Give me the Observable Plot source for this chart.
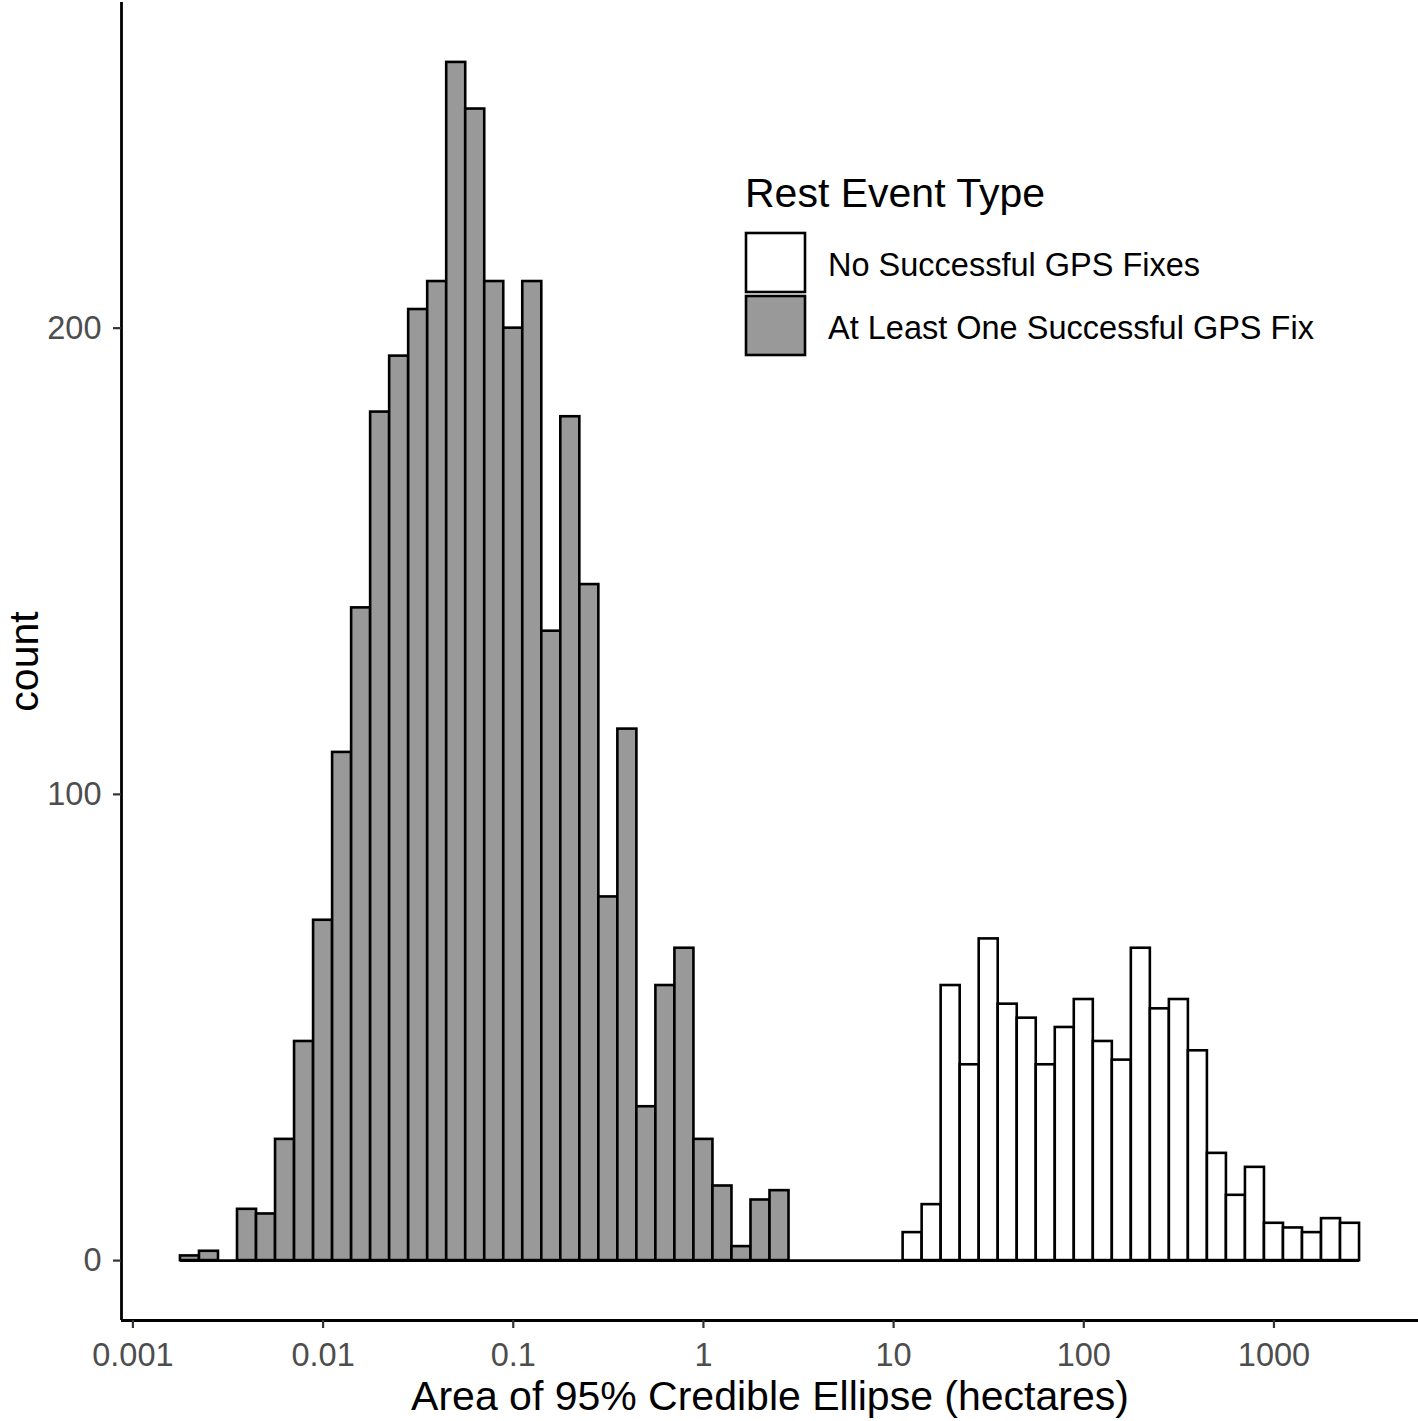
<!DOCTYPE html>
<html><head><meta charset="utf-8">
<script src="https://cdn.jsdelivr.net/npm/d3@7"></script>
<script src="https://cdn.jsdelivr.net/npm/@observablehq/plot@0.6"></script>
<style>
body{margin:0;background:#fff;}
#chart{position:relative;width:1418px;height:1421px;}
</style></head><body><div id="chart"></div>
<script>
// ---- data (histogram on log10 scale, bins of 0.1 decade) ----
const binWidthLog10 = 0.1;
const atLeastOneFixFirstEdgeLog10 = -2.75;
const atLeastOneFixCounts = [1,2,0,11,10,26,47,73,109,140,182,194,204,210,257,247,210,200,210,135,181,145,78,114,33,59,67,26,16,3,13,15];
const noFixFirstEdgeLog10 = 1.05;
const noFixCounts = [6,12,59,42,69,55,52,42,50,56,47,43,67,54,56,45,23,14,20,8,7,6,9,8];
const seriesNames = ["No Successful GPS Fixes", "At Least One Successful GPS Fix"];
const seriesFills = ["#FFFFFF", "#999999"];
const xTicks = [0.001, 0.01, 0.1, 1, 10, 100, 1000];
const yTicks = [0, 100, 200];
const xLabel = "Area of 95% Credible Ellipse (hectares)";
const yLabel = "count";
const legendTitle = "Rest Event Type";

function toBins(firstEdge, counts, type) {
  return counts.map((c, i) => ({
    x1: Math.pow(10, firstEdge + i * binWidthLog10),
    x2: Math.pow(10, firstEdge + (i + 1) * binWidthLog10),
    base: 0, count: c, type
  }));
}
const bins = [
  ...toBins(noFixFirstEdgeLog10, noFixCounts, seriesNames[0]),
  ...toBins(atLeastOneFixFirstEdgeLog10, atLeastOneFixCounts, seriesNames[1])
];
const lo = Math.log10(d3.min(bins, d => d.x1));
const hi = Math.log10(d3.max(bins, d => d.x2));
const xDomain = [Math.pow(10, lo - 0.05 * (hi - lo)), Math.pow(10, hi + 0.05 * (hi - lo))];
const yMax = d3.max(bins, d => d.count);
const yDomain = [-0.05 * yMax, 1.05 * yMax];

const font = "'Liberation Sans', Arial, Helvetica, sans-serif";
const plot = Plot.plot({
  width: 1418, height: 1421,
  marginLeft: 121, marginRight: 0, marginTop: 2, marginBottom: 101,
  style: {fontFamily: font, background: "#fff", overflow: "visible"},
  x: {type: "log", domain: xDomain},
  y: {domain: yDomain},
  color: {domain: seriesNames, range: seriesFills},
  marks: [
    Plot.rect(bins.filter(d => d.count > 0), {x1: "x1", x2: "x2", y1: "base", y2: "count", fill: "type", stroke: "black", strokeWidth: 2.6, inset: 0}),
    Plot.ruleY([0], {x1: Math.pow(10, lo), x2: Math.pow(10, hi), stroke: "black", strokeWidth: 2.6}),
    Plot.ruleX([xDomain[0]], {stroke: "black", strokeWidth: 2.8}),
    Plot.ruleY([yDomain[0]], {stroke: "black", strokeWidth: 2.8}),
    Plot.axisX({ticks: xTicks, tickFormat: d => String(d), tickSize: 8, tickPadding: 14, fontSize: 32.5, stroke: "#333333", strokeWidth: 2.2, fill: "#4D4D4D", label: null}),
    Plot.axisY({ticks: yTicks, tickSize: 8, tickPadding: 12, fontSize: 32.5, stroke: "#333333", strokeWidth: 2.2, fill: "#4D4D4D", label: null}),
    Plot.text([xLabel], {frameAnchor: "bottom", textAnchor: "middle", dy: 89, fontSize: 41, fill: "black"}),
    Plot.text([yLabel], {frameAnchor: "left", textAnchor: "middle", dx: -97, rotate: -90, fontSize: 41, fill: "black"})
  ]
});
document.getElementById("chart").appendChild(plot);

// legend inside the panel (ggplot-style)
const svg = d3.select(plot);
const lg = svg.append("g").attr("transform", "translate(745,0)")
  .style("font-family", font).attr("text-anchor", "start");
lg.append("text").attr("x", 0).attr("y", 207).attr("font-size", 41).attr("fill", "black")
  .attr("text-anchor", "start").text(legendTitle);
const keyTops = [233, 296];
const labelBaselines = [276, 339];
seriesNames.forEach((name, i) => {
  lg.append("rect").attr("x", 1).attr("y", keyTops[i]).attr("width", 59).attr("height", 59)
    .attr("fill", seriesFills[i]).attr("stroke", "black").attr("stroke-width", 2.6);
  lg.append("text").attr("x", 83).attr("y", labelBaselines[i]).attr("font-size", 32.5).attr("fill", "black")
    .attr("text-anchor", "start").text(name);
});
</script></body></html>
